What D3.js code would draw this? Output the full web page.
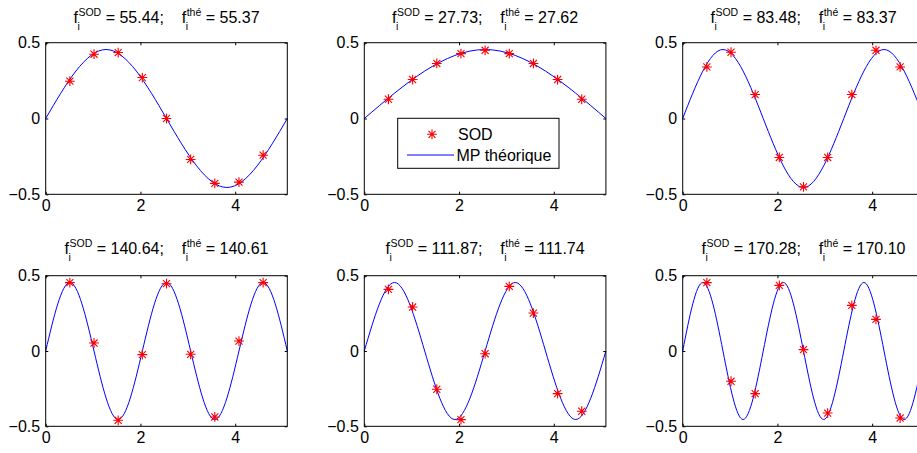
<!DOCTYPE html>
<html><head><meta charset="utf-8">
<script src="https://cdn.jsdelivr.net/npm/d3@7"></script>
<style>html,body{margin:0;padding:0;background:#fff;overflow:hidden}</style>
</head><body><svg id="c" width="917" height="453" xmlns="http://www.w3.org/2000/svg"></svg>
<script>
// ---- data ----
const xDomain = [0, 5.1];
const yDomain = [-0.5, 0.5];
const xTicks = [0, 2, 4];
const yTicks = [-0.5, 0, 0.5];
const yTickLabels = ["\u22120.5", "0", "0.5"];
const sensorX = [0.51, 1.02, 1.53, 2.04, 2.55, 3.06, 3.57, 4.08, 4.59];
const fSOD = ["55.44", "27.73", "83.48", "140.64", "111.87", "170.28"];
const fThe = ["55.37", "27.62", "83.37", "140.61", "111.74", "170.10"];
const sod1 = [0.246, 0.424, 0.435, 0.270, 0.000, -0.270, -0.428, -0.420, -0.242];
const sod2 = [0.127, 0.257, 0.363, 0.428, 0.450, 0.428, 0.363, 0.257, 0.127];
const sod3 = [0.340, 0.437, 0.158, -0.257, -0.451, -0.257, 0.158, 0.450, 0.340];
const sod4 = [0.454, 0.053, -0.460, -0.024, 0.447, -0.022, -0.438, 0.066, 0.454];
const sod5 = [0.409, 0.292, -0.254, -0.456, -0.018, 0.429, 0.252, -0.283, -0.400];
const sod6 = [0.454, -0.201, -0.283, 0.436, 0.009, -0.412, 0.303, 0.210, -0.445];
// theoretical mode shape knots (zeros and extrema, evenly spaced along the beam)
const mp1 = [0, 0.455, 0, -0.455, 0];
const mp2 = [0, 0.455, 0];
const mp3 = [0, 0.455, 0, -0.455, 0, 0.455, 0];
const mp4 = [0, 0.455, 0, -0.455, 0, 0.455, 0, -0.455, 0, 0.455, 0];
const mp5 = [0, 0.455, 0, -0.455, 0, 0.455, 0, -0.455, 0];
const mp6 = [0, 0.455, 0, -0.455, 0, 0.455, 0, -0.455, 0, 0.455, 0, -0.455, 0];
const sodSeries = [sod1, sod2, sod3, sod4, sod5, sod6];
const mpSeries = [mp1, mp2, mp3, mp4, mp5, mp6];
const legendLabels = ["SOD", "MP th\u00e9orique"];

// ---- layout ----
const colLeft = [45.7, 364.3, 682.7];
const panelW = 241.6;
const rowTop = [42.7, 275.7];
const rowBottom = [194.3, 426.3];
const titleBase = [23.3, 254.4];
const FONT = "'Liberation Sans', Arial, Helvetica, sans-serif";
const FS = 16, FSS = 10.5;

const svg = d3.select("#c").style("font-family", FONT);
svg.append("rect").attr("width", 917).attr("height", 453).attr("fill", "#fff");

function asterisk(g, x, y) {
  const r = 4.9, d = r * 0.72;
  g.append("path")
    .attr("d", `M${x-r},${y}L${x+r},${y}M${x},${y-r}L${x},${y+r}M${x-d},${y-d}L${x+d},${y+d}M${x-d},${y+d}L${x+d},${y-d}`)
    .attr("stroke", "#ff0000").attr("stroke-width", 1.1).attr("fill", "none");
}

function drawTitle(cx, base, fs, ft) {
  const t = svg.append("g");
  let x = 0;
  const main = s => {
    const e = t.append("text").attr("x", x).attr("y", 0).attr("font-size", FS)
      .style("white-space", "pre").text(s);
    x += e.node().getComputedTextLength();
  };
  const supsub = (sup, sub) => {
    const a = t.append("text").attr("x", x + 0.5).attr("y", -7.3).attr("font-size", FSS).text(sup);
    const b = t.append("text").attr("x", x - 0.5).attr("y", 6.7).attr("font-size", FSS).text(sub);
    x += Math.max(a.node().getComputedTextLength(), b.node().getComputedTextLength()) + 0.5;
  };
  main("f"); supsub("SOD", "i"); main(" = " + fs + ";    ");
  main("f"); supsub("th\u00e9", "i"); main(" = " + ft);
  t.attr("transform", `translate(${cx - x / 2},${base})`);
}

for (let p = 0; p < 6; p++) {
  const row = Math.floor(p / 3), col = p % 3;
  const x0 = colLeft[col], x1 = x0 + panelW;
  const y0 = rowTop[row], y1 = rowBottom[row];
  const xs = d3.scaleLinear().domain(xDomain).range([x0, x1]);
  const ys = d3.scaleLinear().domain(yDomain).range([y1, y0]);
  const g = svg.append("g");

  // curve
  const knots = mpSeries[p];
  const kx = knots.map((v, i) => xDomain[0] + (xDomain[1] - xDomain[0]) * i / (knots.length - 1));
  const line = d3.line().x((d, i) => xs(kx[i])).y(d => ys(d)).curve(d3.curveNatural);
  g.append("path").attr("d", line(knots)).attr("fill", "none")
    .attr("stroke", "#0000ff").attr("stroke-width", 1);

  // SOD points
  sodSeries[p].forEach((v, i) => asterisk(g, xs(sensorX[i]), ys(v)));

  // box
  g.append("rect").attr("x", x0).attr("y", y0).attr("width", x1 - x0).attr("height", y1 - y0)
    .attr("fill", "none").attr("stroke", "#000").attr("stroke-width", 1);

  // ticks (inward) using axes
  const tl = 2.6;
  const ax = g.append("g").attr("transform", `translate(0,${y1})`)
    .call(d3.axisBottom(xs).tickValues(xTicks).tickSize(-tl).tickPadding(5).tickFormat(d3.format("d")));
  const axT = g.append("g").attr("transform", `translate(0,${y0})`)
    .call(d3.axisTop(xs).tickValues(xTicks).tickSize(-tl).tickFormat(""));
  const ay = g.append("g").attr("transform", `translate(${x0},0)`)
    .call(d3.axisLeft(ys).tickValues(yTicks).tickSize(-tl).tickPadding(5.5).tickFormat((d, i) => yTickLabels[i]));
  const ayR = g.append("g").attr("transform", `translate(${x1},0)`)
    .call(d3.axisRight(ys).tickValues(yTicks).tickSize(-tl).tickFormat(""));
  [ax, axT, ay, ayR].forEach(a => {
    a.select(".domain").remove();
    a.selectAll("line").attr("stroke", "#000");
    a.selectAll("text").attr("fill", "#000").attr("font-size", FS).attr("font-family", FONT);
  });
  ax.selectAll("text").attr("dy", null).attr("y", 16.5);

  drawTitle((x0 + x1) / 2, titleBase[row], fSOD[p], fThe[p]);

  if (p === 1) {
    const lg = svg.append("g");
    lg.append("rect").attr("x", 397.7).attr("y", 118.3).attr("width", 161.3).attr("height", 50)
      .attr("fill", "#fff").attr("stroke", "#000").attr("stroke-width", 1);
    asterisk(lg, 432, 134.3);
    lg.append("text").attr("x", 458).attr("y", 140).attr("font-size", FS).text(legendLabels[0]);
    lg.append("line").attr("x1", 407).attr("x2", 454).attr("y1", 155).attr("y2", 155)
      .attr("stroke", "#0000ff").attr("stroke-width", 1);
    lg.append("text").attr("x", 456.5).attr("y", 161).attr("font-size", FS).text(legendLabels[1]);
  }
}
</script></body></html>
